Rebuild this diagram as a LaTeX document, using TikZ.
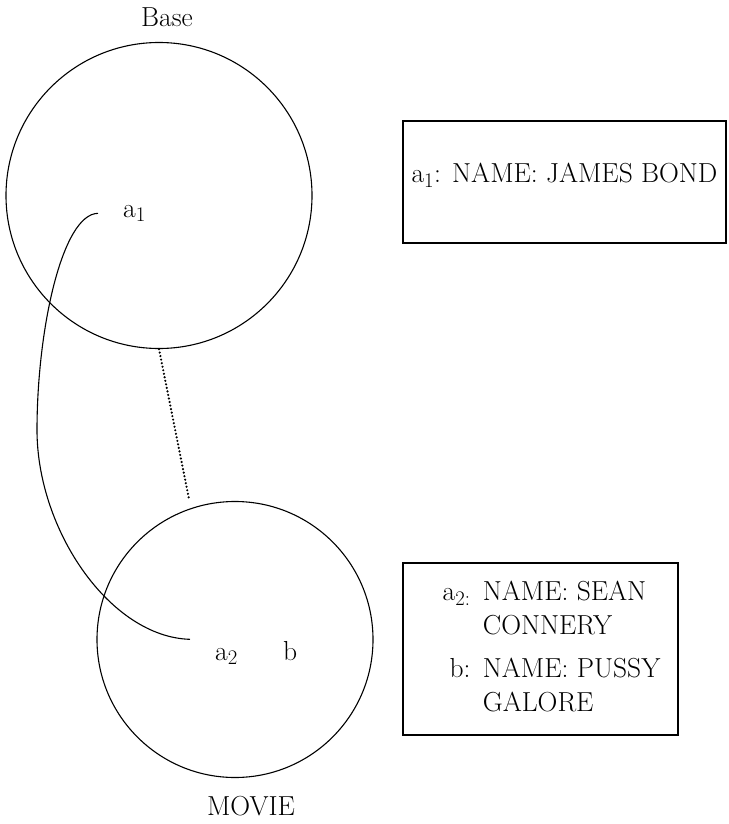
\documentclass[tikz,border=0pt]{standalone}
\usepackage{tikz}
\usetikzlibrary{shapes,arrows,calc,positioning}
\tikzstyle{set} = [circle, draw, line width=1.1pt, inner sep=0pt]
\tikzstyle{record} = [rectangle, draw, line width=1.1pt, inner sep=0pt]
\tikzstyle{element} = [anchor=base west, inner sep=0pt]
\tikzstyle{setname} = [anchor=base, inner sep=0pt]
\tikzstyle{link} = [draw, line width=1.1pt]
\tikzstyle{lift} = [draw, line width=2.4pt, dash pattern=on 0pt off 3.6pt, line cap=round]

\begin{document}
\begin{tikzpicture}[x=1pt, y=-1pt, font=\fontsize{27.5}{33}\selectfont]
\useasboundingbox (0,0) rectangle (728,824);
\node [set, minimum size=306pt] (base) at (159,195.5) {};
\node [set, minimum size=276pt] (movie) at (235,639.5) {};
\node [setname] (basename) at (167,27) {Base};
\node [setname] (moviename) at (251,815) {MOVIE};
\node [element] (a1) at (123,217) {a$_1$};
\node [element] (a2) at (215,660) {a$_2$};
\node [element] (b) at (283,660) {b};
\node [record, minimum width=323pt, minimum height=122pt, text depth=18pt] (basebox) at (564.5,182) {a$_1$: NAME: JAMES BOND};
\node [record, minimum width=275pt, minimum height=172pt, font=\fontsize{27.5}{34}\selectfont] (moviebox) at (540.5,649) {%
\begin{tabular}{@{\hspace{22pt}}r@{\hspace{0.45em}}l@{}}
a$_{2:}$ & NAME: SEAN\\
 & CONNERY\\[9pt]
b: & NAME: PUSSY\\
 & GALORE
\end{tabular}};

\coordinate (curvestart) at ($(a1.west)+(-25,0)$);
\coordinate (curveend) at ($(a2.west)+(-25,-17)$);
\coordinate (dotend) at (189,499);
\path [lift] (base.south) -- (dotend);
\path [link] (curvestart) .. controls (62,214) and (37,330) .. (37,430) .. controls (37,530) and (110,637) .. (curveend);
\end{tikzpicture}
\end{document}
